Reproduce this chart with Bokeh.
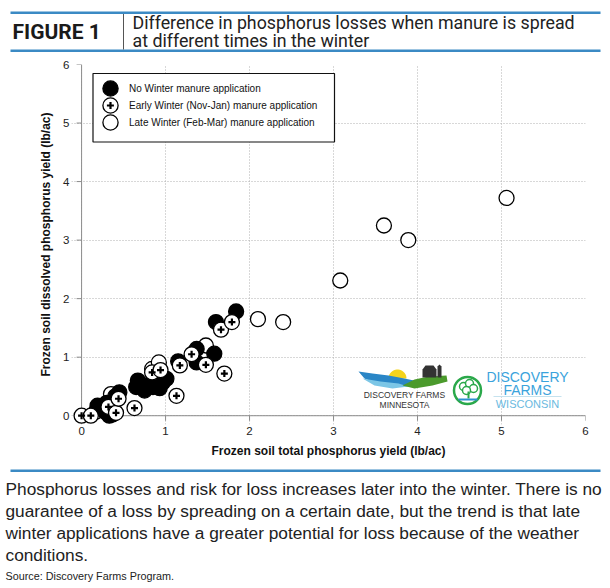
import numpy as np
from bokeh.plotting import figure
from bokeh.layouts import column
from bokeh.models import Label, BoxAnnotation, FixedTicker, Legend, LegendItem, Range1d
from bokeh.embed import file_html
from bokeh.resources import INLINE

# ---------------- data ----------------
series_names = [
    "No Winter manure application",
    "Early Winter (Nov-Jan) manure application",
    "Late Winter (Feb-Mar) manure application",
]
no_winter_total = [0.19, 0.30, 0.28, 0.33, 0.37, 0.40, 0.45, 0.65, 0.67, 0.75, 0.77,
                   0.85, 0.93, 0.97, 1.01, 1.15, 1.37, 1.37, 1.58, 1.60, 1.84]
no_winter_dissolved = [0.17, 0.22, 0.07, 0.00, 0.02, 0.33, 0.40, 0.49, 0.60, 0.43, 0.52,
                       0.49, 0.47, 0.57, 0.63, 0.93, 0.91, 1.14, 1.06, 1.60, 1.78]
early_total = [0.00, 0.11, 0.32, 0.41, 0.44, 0.63, 0.84, 0.94, 1.13, 1.17, 1.31,
               1.48, 1.70, 1.66, 1.79]
early_dissolved = [0.00, 0.00, 0.15, 0.05, 0.29, 0.13, 0.74, 0.78, 0.34, 0.86, 1.05,
                   0.87, 0.72, 1.47, 1.60]
late_total = [0.17, 0.35, 0.84, 0.92, 1.48, 2.10, 2.40, 3.08, 3.60, 3.89, 5.06]
late_dissolved = [0.07, 0.37, 0.80, 0.91, 1.20, 1.65, 1.60, 2.31, 3.25, 3.00, 3.72]
axis_ticks = [0, 1, 2, 3, 4, 5, 6]
tick_labels = ["0", "1", "2", "3", "4", "5", "6"]
x_title = "Frozen soil total phosphorus yield (lb/ac)"
y_title = "Frozen soil dissolved phosphorus yield (lb/ac)"
fig_tag = "FIGURE 1"
title_lines = ["Difference in phosphorus losses when manure is spread",
               "at different times in the winter"]
caption_lines = [
    "Phosphorus losses and risk for loss increases later into the winter. There is no",
    "guarantee of a loss by spreading on a certain date, but the trend is that late",
    "winter applications have a greater potential for loss because of the weather",
    "conditions.",
]
source_text = "Source: Discovery Farms Program."

# ---------------- layout constants (canvas pixels) ----------------
W = 610
HEAD_H = 58          # header strip: canvas y 0..58
MAIN_BOTTOM = 464    # main plot: canvas y 58..464
TOTAL_H = 588        # caption strip: canvas y 464..588
FL, FR, FT, FB = 71, 585, 64, 424
X0, X1 = -0.12, 6.0
Y0, Y1 = -0.15, 6.0
SX = (FR - FL) / (X1 - X0)
SY = (FB - FT) / (Y1 - Y0)


def dx(px):
    return X0 + (px - FL) / SX


def dy(py):
    return Y0 + (FB - py) / SY


BLUE = "#3b8ac4"
FONT = "Liberation Sans"


def strip(top, bottom):
    f = figure(width=W, height=bottom - top, x_range=Range1d(0, W), y_range=Range1d(bottom, top),
               output_backend="svg", toolbar_location=None, min_border=0,
               x_axis_location=None, y_axis_location=None, frame_align=False)
    f.xgrid.visible = False
    f.ygrid.visible = False
    f.outline_line_color = None
    f.background_fill_color = "white"
    f.border_fill_color = "white"
    return f


# ---------------- header ----------------
head = strip(0, HEAD_H)
for top in (11, 49):
    head.add_layout(BoxAnnotation(left=10, right=600, top=top, bottom=top + 2.5,
                                  fill_color=BLUE, fill_alpha=1, line_color=None))
head.add_layout(BoxAnnotation(left=122.5, right=123.5, top=13.5, bottom=49,
                              fill_color="#555555", fill_alpha=1, line_color=None))
head.add_layout(Label(x=12, y=31, text=fig_tag, text_baseline="middle",
                      text_font="Roboto", text_font_style="bold", text_font_size="21px",
                      text_color="#1a1a1a"))
for txt, yy in zip(title_lines, (22, 40)):
    head.add_layout(Label(x=132, y=yy, text=txt, text_baseline="middle",
                          text_font="Roboto", text_font_size="17.8px", text_color="#222222"))

# ---------------- main plot ----------------
p = figure(width=W, height=MAIN_BOTTOM - HEAD_H, x_range=(X0, X1), y_range=(Y0, Y1),
           output_backend="svg", toolbar_location=None, frame_align=False,
           min_border_left=FL, min_border_right=W - FR,
           min_border_top=FT - HEAD_H, min_border_bottom=MAIN_BOTTOM - FB)
p.outline_line_color = None
p.background_fill_color = "white"
p.border_fill_color = "white"

for g in (p.xgrid, p.ygrid):
    g.ticker = FixedTicker(ticks=axis_ticks)
    g.grid_line_color = "#b0b0b0"
    g.grid_line_dash = "1 2"
    g.grid_line_width = 1

for ax in (p.xaxis, p.yaxis):
    ax.ticker = FixedTicker(ticks=axis_ticks)
    ax.major_label_overrides = {t: l for t, l in zip(axis_ticks, tick_labels)}
    ax.axis_line_color = None
    ax.major_tick_line_color = None
    ax.minor_tick_line_color = None
    ax.major_tick_in = 0
    ax.major_tick_out = 0
    ax.major_label_text_font = FONT
    ax.major_label_text_font_size = "11.5px"
    ax.major_label_text_color = "#222222"
    ax.axis_label_text_font = FONT
    ax.axis_label_text_font_style = "bold"
    ax.axis_label_text_font_size = "12px"
    ax.axis_label_text_color = "#111111"
p.xaxis.major_label_standoff = 2
p.yaxis.major_label_standoff = 2
p.xaxis.axis_label = x_title
p.yaxis.axis_label = y_title
p.xaxis.axis_label_standoff = 6
p.yaxis.axis_label_standoff = 7

lo, hi = min(axis_ticks), max(axis_ticks)
AX_COL = "#8c8c8c"
p.segment(x0=[lo, 0], y0=[0, lo], x1=[hi, 0], y1=[0, hi], line_color=AX_COL, line_width=1)
p.segment(x0=axis_ticks, y0=[0] * len(axis_ticks), x1=axis_ticks,
          y1=[-5 / SY] * len(axis_ticks), line_color=AX_COL, line_width=1)
p.segment(x0=[0] * len(axis_ticks), y0=axis_ticks, x1=[-5 / SX] * len(axis_ticks),
          y1=axis_ticks, line_color=AX_COL, line_width=1)

# logos (decoration) -- Minnesota
th = np.linspace(0, np.pi, 20)
p.patch([dx(397 + 9 * np.cos(t)) for t in th], [dy(378 - 9 * np.sin(t)) for t in th],
        fill_color="#f4d31c", line_color=None)


def poly(pts, color):
    p.patch([dx(a) for a, b in pts], [dy(b) for a, b in pts], fill_color=color, line_color=None)


poly([(358, 371), (372, 373), (388, 375), (404, 378), (418, 381), (410, 386),
      (392, 386), (376, 383), (364, 378)], "#2a86c6")
poly([(362, 378), (380, 381), (398, 383), (408, 386), (392, 388), (374, 385)], "#7cc6e6")
poly([(402, 385), (414, 379), (428, 376), (446, 375), (447, 381), (432, 385), (414, 388)], "#4b9a2c")
poly([(422, 377), (422, 369), (425, 365), (433, 365), (436, 369), (436, 377)], "#333333")
poly([(437, 377), (437, 366), (439, 364), (441, 366), (441, 377)], "#333333")
for txt, yy in (("DISCOVERY FARMS", 394), ("MINNESOTA", 404)):
    p.add_layout(Label(x=dx(404), y=dy(yy), text=txt, text_align="center", text_baseline="middle",
                       text_font=FONT, text_font_size="8.5px", text_color="#333333"))
# Wisconsin
p.scatter(x=[dx(467)], y=[dy(390)], size=27, marker="circle", fill_color="white",
          line_color="#2aa84a", line_width=2.5)
p.scatter(x=[dx(463), dx(469), dx(473), dx(466)], y=[dy(386), dy(383), dy(388), dy(390)],
          size=8, marker="circle", fill_color="white", line_color="#2aa84a", line_width=1.5)
p.segment(x0=[dx(468)], y0=[dy(391)], x1=[dx(468)], y1=[dy(398)], line_color="#2aa84a", line_width=2)
p.segment(x0=[dx(458)], y0=[dy(399)], x1=[dx(477)], y1=[dy(399)], line_color="#2e8fd0", line_width=2)
p.add_layout(Label(x=dx(527), y=dy(376), text="DISCOVERY", text_align="center", text_baseline="middle",
                   text_font=FONT, text_font_size="14px", text_color="#3aa3dc"))
p.add_layout(Label(x=dx(527), y=dy(389), text="FARMS", text_align="center", text_baseline="middle",
                   text_font=FONT, text_font_size="14px", text_color="#3aa3dc"))
p.segment(x0=[dx(493)], y0=[dy(396)], x1=[dx(561)], y1=[dy(396)], line_color="#c5e2ee", line_width=1)
p.add_layout(Label(x=dx(527), y=dy(403), text="WISCONSIN", text_align="center", text_baseline="middle",
                   text_font=FONT, text_font_size="11px", text_color="#6ab9e0"))

# data marks
late_r = p.scatter(late_total, late_dissolved, size=15, marker="circle",
                   fill_color="white", line_color="black", line_width=1.3)
no_r = p.scatter(no_winter_total, no_winter_dissolved, size=15, marker="circle",
                 fill_color="black", line_color="black", line_width=1.3)
early_c = p.scatter(early_total, early_dissolved, size=15, marker="circle",
                    fill_color="white", line_color="black", line_width=1.3)
early_p = p.scatter(early_total, early_dissolved, size=15, marker="cross",
                    line_color="black", line_width=2.2, line_dash="0 4 7 100")

# legend box + one legend per row (glyph box 38 px -> 15 px markers)
p.add_layout(BoxAnnotation(left=dx(92.5), right=dx(334), top=dy(73), bottom=dy(141.5),
                           fill_color="white", fill_alpha=1, line_color="#111111",
                           line_alpha=1, line_width=1.2))
legend_rows = [[no_r], [early_c, early_p], [late_r]]
row_centers = (88, 105, 122)
GLYPH_CX = 110
for name, rends, cy in zip(series_names, legend_rows, row_centers):
    lg = Legend(items=[LegendItem(label=name, renderers=rends)],
                location=(GLYPH_CX - 19 - FL, FB - cy - 19), glyph_width=38, glyph_height=38,
                spacing=0, padding=0, margin=0, label_standoff=0,
                border_line_color=None, background_fill_alpha=0,
                label_text_font=FONT, label_text_font_size="10px",
                label_text_color="#111111")
    p.add_layout(lg)

# ---------------- caption ----------------
cap = strip(MAIN_BOTTOM, TOTAL_H)
cap.add_layout(BoxAnnotation(left=10, right=600, top=469, bottom=471.5,
                             fill_color=BLUE, fill_alpha=1, line_color=None))
for txt, yy in zip(caption_lines, (488, 510, 532, 554)):
    cap.add_layout(Label(x=5, y=yy, text=txt, text_baseline="middle",
                         text_font=FONT, text_font_size="17.3px", text_color="#222222"))
cap.add_layout(Label(x=5, y=575, text=source_text, text_baseline="middle",
                     text_font=FONT, text_font_size="10.8px", text_color="#222222"))

layout = column(head, p, cap, spacing=0)
open("out.html", "w").write(file_html(layout, INLINE))
